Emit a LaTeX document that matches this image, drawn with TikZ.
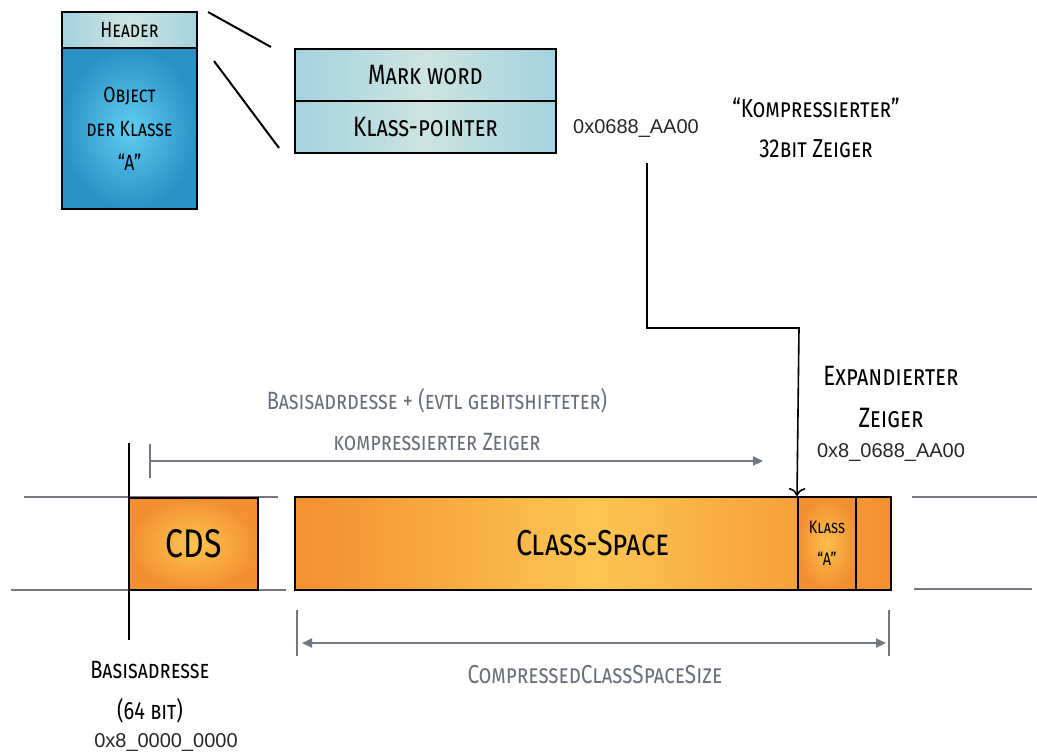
\documentclass[tikz,border=0pt]{standalone}
\usepackage{fontspec}
\usetikzlibrary{arrows.meta}
\newfontfamily\handfont{Fira Sans}[Letters=SmallCaps,FakeStretch=0.8,Ligatures=TeX]
\newfontfamily\hexfont{Liberation Sans}
\definecolor{lineGray}{HTML}{737880}
\definecolor{textGray}{HTML}{6A6F78}
\definecolor{paleBlue}{HTML}{A3D2DF}
\definecolor{paleCenter}{HTML}{CDE4DF}
\definecolor{deepBlue}{HTML}{2A91C6}
\definecolor{lightBlue}{HTML}{60CDF1}
\definecolor{darkOrange}{HTML}{F38F31}
\definecolor{lightOrange}{HTML}{FDC552}
\tikzset{
  box/.style={draw=black, line width=1pt, inner sep=0pt, align=center},
  pale box/.style={box, left color=paleBlue, right color=paleBlue, middle color=paleCenter},
  hand/.style={font=\handfont\fontsize{#1}{#1}\selectfont},
  hex/.style={font=\hexfont\fontsize{10}{12}\selectfont, text=black!85},
  gray line/.style={draw=lineGray, line width=1pt},
}

\begin{document}
\begin{tikzpicture}[x=0.5pt, y=-0.5pt]
  \useasboundingbox (0,0) rectangle (1037,755);

  \node[pale box, minimum width=67.5pt, minimum height=18pt, hand=11] (hdr) at (129.5,30) {Header};
  \node[box, inner color=lightBlue, outer color=deepBlue, minimum width=67.5pt, minimum height=80.5pt,
        hand=11, text depth=0pt] (obj) at (129.5,128.5) {Object\\[6pt]der Klasse\\[6pt]“A”};

  \node[pale box, minimum width=130.5pt, minimum height=26pt, hand=14] (mark) at (425.5,75) {Mark word};
  \node[pale box, minimum width=130.5pt, minimum height=26pt, hand=14] (kptr) at (425.5,127) {Klass-pointer};

  \coordinate (z1) at (208,12);
  \coordinate (z2) at (271,47);
  \coordinate (z3) at (214,61);
  \coordinate (z4) at (279,148);
  \draw[line width=1pt] (z1) -- (z2);
  \draw[line width=1pt] (z3) -- (z4);

  \node[hex] (hexA) at (636,129) {0x0688\_AA00};
  \node[hand=13, align=center] (kompr) at (816,128) {“Kompressierter”\\[7pt]32bit Zeiger};

  \node[hand=14, align=center] (expand) at (891,397) {Expandierter\\[7pt]Zeiger};
  \node[hex] (hexB) at (891,452) {0x8\_0688\_AA00};

  \node[hand=12.5, text=textGray, align=center] (offs) at (437,420) {Basisadrdesse + (evtl gebitshifteter)\\[8pt]kompressierter Zeiger};

  \draw[gray line] (24,497) -- (278,497);
  \draw[gray line] (11,590) -- (286,590);
  \draw[gray line] (912,497) -- (1037,497);
  \draw[gray line] (914,589) -- (1032,589);

  \node[box, inner color=lightOrange, outer color=darkOrange, minimum width=64.5pt, minimum height=46pt, hand=20] (cds) at (193.5,544) {CDS};
  \node[box, left color=darkOrange, right color=darkOrange, middle color=lightOrange,
        minimum width=298pt, minimum height=46.5pt, hand=18] (cspace) at (593,543.5) {Class-Space};
  \node[box, inner color=lightOrange!90!darkOrange, outer color=darkOrange, minimum width=29pt, minimum height=46.5pt,
        hand=9] (klass) at (827,543.5) {Klass\\[7pt]“A”};

  \coordinate (b0) at (129,443);
  \coordinate (b1) at (129,640);
  \draw[line width=1pt] (b0) -- (b1);

  \coordinate (t0) at (150,444);
  \coordinate (t1) at (150,478);
  \coordinate (a0) at (150,461);
  \coordinate (a1) at (763,461);
  \draw[gray line] (t0) -- (t1);
  \draw[gray line, -{Triangle[length=5pt, width=4.5pt]}] (a0) -- (a1);

  \coordinate (p0) at (647,163);
  \coordinate (bend) at (799,328);
  \draw[line width=0.8pt, -{To[length=4pt]}] (p0) |- (bend) -- (klass.north west);

  \coordinate (s0) at (297,610);
  \coordinate (s1) at (297,656);
  \coordinate (s2) at (889,610);
  \coordinate (s3) at (889,656);
  \coordinate (d0) at (302,643);
  \coordinate (d1) at (886,643);
  \draw[gray line] (s0) -- (s1);
  \draw[gray line] (s2) -- (s3);
  \draw[gray line, {Triangle[length=5pt, width=4.5pt]}-{Triangle[length=5pt, width=4.5pt]}] (d0) -- (d1);
  \node[hand=13, text=textGray] (ccss) at (595,675) {CompressedClassSpaceSize};

  \node[hand=12.5, align=center] (base) at (150,692) {Basisadresse\\[8pt](64 bit)};
  \node[hex] (hexC) at (166,742) {0x8\_0000\_0000};
\end{tikzpicture}
\end{document}
